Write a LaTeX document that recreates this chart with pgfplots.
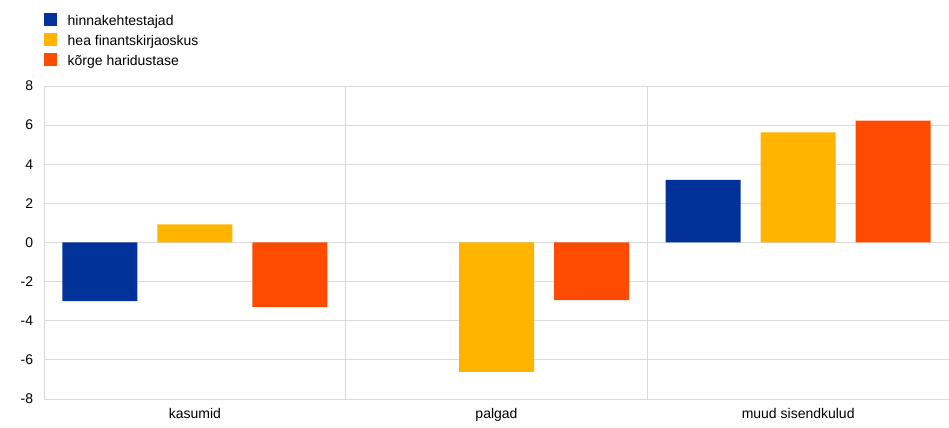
\documentclass[border=0pt]{standalone}
\usepackage{pgfplots}
\pgfplotsset{compat=1.18}
\usepackage{fontspec}
\setmainfont{Liberation Sans}
\definecolor{cblue}{HTML}{003299}
\definecolor{cyellow}{HTML}{FFB400}
\definecolor{corange}{HTML}{FF4B00}
\definecolor{cgrid}{HTML}{D9D9D9}
\begin{document}
\fontsize{14pt}{16pt}\selectfont
\begin{tikzpicture}
\begin{axis}[
  name=ax,
  scale only axis,
  width=905pt, height=313pt,
  xmin=-0.5, xmax=2.5,
  ymin=-8, ymax=8,
  ytick={-8,-6,...,8},
  xtick={0,1,2},
  xticklabels={kasumid,palgad,muud sisendkulud},
  extra x ticks={0.5,1.5},
  extra x tick labels={},
  extra x tick style={grid=major, major grid style={cgrid, line width=0.8pt}},
  ymajorgrids,
  major grid style={cgrid, line width=0.8pt},
  major tick length=0pt,
  axis x line*=bottom,
  axis y line*=left,
  axis line style={cgrid, line width=0.8pt, -},
  ybar=20pt,
  bar width=75pt,
  /pgf/number format/assume math mode=true,
  tick label style={font=\fontsize{14pt}{16pt}\selectfont, black},
  yticklabel style={xshift=-6pt},
  xticklabel style={yshift=-4pt},
  legend style={at={(0,1)}, anchor=north west, yshift=73pt, draw=none, fill=none,
    font=\fontsize{14pt}{16pt}\selectfont, row sep=5pt, inner sep=0pt,
    nodes={inner sep=0pt, text height=10pt, text depth=3pt},
    /tikz/every odd column/.append style={column sep=11pt}},
  legend cell align=left,
  legend image code/.code={\fill[#1] (0pt,-4pt) rectangle (12.5pt,8.5pt);},
]
\addplot[fill=cblue, draw=none] coordinates {(0,-3.0) (2,3.2)};
\addplot[fill=cyellow, draw=none] coordinates {(0,0.93) (1,-6.62) (2,5.63)};
\addplot[fill=corange, draw=none] coordinates {(0,-3.3) (1,-2.94) (2,6.23)};
\legend{hinnakehtestajad, hea finantskirjaoskus, kõrge haridustase}
\end{axis}
\pgfresetboundingbox
\path[use as bounding box] ([shift={(-44pt,-29pt)}]ax.south west) rectangle ([shift={(0pt,86pt)}]ax.north east);
\end{tikzpicture}
\end{document}
